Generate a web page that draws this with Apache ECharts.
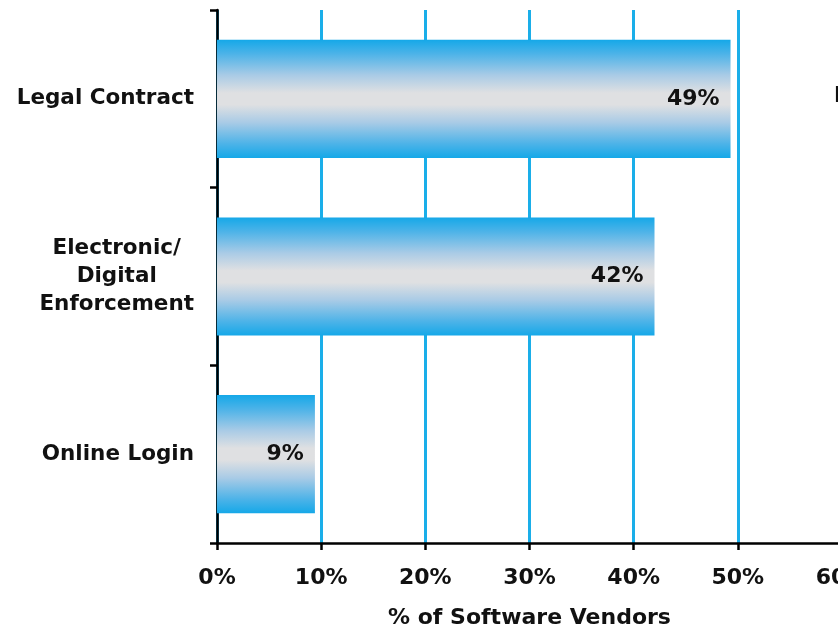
<!DOCTYPE html>
<html>
<head>
<meta charset="utf-8">
<script src="https://cdn.jsdelivr.net/npm/echarts@6/dist/echarts.min.js"></script>
<style>html,body{margin:0;padding:0;background:#fff;}#c{width:838px;height:629px;}</style>
</head>
<body>
<div id="c"></div>
<script>
const categories = ['Legal Contract', 'Electronic/\nDigital\nEnforcement', 'Online Login'];
const values = [49.3, 42.0, 9.4];
const xTicks = [0, 10, 20, 30, 40, 50, 60];
const axisName = '% of Software Vendors';

const FONT = 'DejaVu Sans, Verdana, sans-serif';
const chart = echarts.init(document.getElementById('c'));
const blue = '#1aaee9';
const catStyle = { fontSize: 21.5, fontWeight: 'bold', color: '#111', fontFamily: FONT, lineHeight: 28, align: 'center' };
chart.setOption({
  animation: false,
  backgroundColor: '#ffffff',
  textStyle: { fontFamily: FONT },
  grid: { left: 217, right: -4, top: 10, bottom: 86, containLabel: false, outerBoundsMode: 'none' },
  xAxis: {
    type: 'value', min: xTicks[0], max: xTicks[xTicks.length - 1], interval: 10,
    name: axisName, nameLocation: 'middle', nameGap: 64,
    nameTextStyle: { fontSize: 22, fontWeight: 'bold', color: '#111', fontFamily: FONT },
    axisLine: { show: true, lineStyle: { color: '#000', width: 2.5 } },
    axisTick: { show: true, length: 7, lineStyle: { color: '#000', width: 2.5 } },
    axisLabel: { formatter: v => v + '%', fontSize: 22, fontWeight: 'bold', color: '#111', margin: 24, fontFamily: FONT },
    splitLine: { show: true, lineStyle: { color: blue, width: 3 } }
  },
  yAxis: {
    type: 'category', data: categories, inverse: true,
    axisLine: { show: true, lineStyle: { color: '#000', width: 2.5 } },
    axisTick: { show: true, length: 7, lineStyle: { color: '#000', width: 2.5 } },
    axisLabel: {
      margin: 23, align: 'right', fontSize: 21.5, fontWeight: 'bold', color: '#111', fontFamily: FONT, lineHeight: 28,
      formatter: v => v.split('\n').map(l => '{c|' + l + '}').join('\n'),
      rich: { c: catStyle }
    },
    splitLine: { show: false }
  },
  series: [{
    type: 'bar', data: values, barCategoryGap: '33.5%',
    itemStyle: {
      color: new echarts.graphic.LinearGradient(0, 0, 0, 1, [
        { offset: 0, color: '#15a8e8' },
        { offset: 0.12, color: '#4db3e8' },
        { offset: 0.3, color: '#a9cbe6' },
        { offset: 0.45, color: '#dfe0e2' },
        { offset: 0.55, color: '#dfe0e2' },
        { offset: 0.7, color: '#a9cbe6' },
        { offset: 0.88, color: '#4db3e8' },
        { offset: 1, color: '#15a8e8' }
      ])
    },
    label: { show: true, position: 'insideRight', distance: 11, formatter: p => Math.round(p.value) + '%',
      fontSize: 22, fontWeight: 'bold', color: '#111', fontFamily: FONT }
  }],
  graphic: [{ type: 'text', left: 834, top: 86, style: { text: 'L', fontSize: 21, fontWeight: 'bold', fill: '#111', fontFamily: FONT } }]
});
</script>
</body>
</html>
